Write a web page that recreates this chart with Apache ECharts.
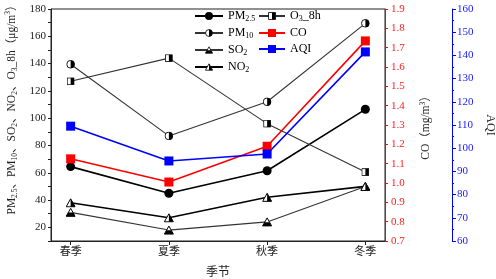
<!DOCTYPE html>
<html>
<head>
<meta charset="utf-8">
<script src="https://cdn.jsdelivr.net/npm/echarts@6/dist/echarts.min.js"></script>
<style>
  html, body { margin: 0; padding: 0; background: #fff; }
  #chart { width: 496px; height: 279px; }
</style>
</head>
<body>
<div id="chart"></div>
<script>
// 季节与各污染物浓度
const seasons = ['春季', '夏季', '秋季', '冬季']
const pm25 = [64.5, 45, 61.5, 106.5]
const pm10 = [139.5, 87, 112, 169.5]
const o3 = [127, 144, 96, 60.5]
const so2 = [31, 18, 24, 50]
const no2 = [38, 27, 42, 50]
const co = [1.125, 1.005, 1.19, 1.735]
const aqi = [109.5, 94.5, 97.5, 141.5]

const leftTicks = [20, 40, 60, 80, 100, 120, 140, 160, 180]
const seasonTicks = [0, 1, 2, 3]

const serif = '"Liberation Serif", "Times New Roman", "Noto Sans CJK SC", serif'

// 双色标记（Origin 风格）
function svgSymbol (body) {
  const svg = "<svg xmlns='http://www.w3.org/2000/svg' width='20' height='20' viewBox='0 0 20 20'>" + body + '</svg>'
  return 'image://data:image/svg+xml;charset=utf-8,' + encodeURIComponent(svg)
}
const halfCircle = svgSymbol("<circle cx='10' cy='10' r='8.6' fill='white' stroke='black' stroke-width='2'/><path d='M10 1.4 A8.6 8.6 0 0 1 10 18.6 Z' fill='black'/>")
const halfSquare = svgSymbol("<rect x='1.5' y='1.5' width='17' height='17' fill='white' stroke='black' stroke-width='2'/><rect x='10' y='1.5' width='8.5' height='17' fill='black'/>")
const triBottom = svgSymbol("<polygon points='10,2 19,18 1,18' fill='white' stroke='black' stroke-width='2'/><polygon points='5.5,10.5 14.5,10.5 19,18 1,18' fill='black'/>")
const triRight = svgSymbol("<polygon points='10,2 19,18 1,18' fill='white' stroke='black' stroke-width='2'/><polygon points='10,2 19,18 10,18' fill='black'/>")

const pairs = arr => arr.map((v, i) => [i, v])

const rich = {
  a: { fontFamily: serif, fontSize: 12, lineHeight: 14, color: '#000' },
  b: { fontFamily: serif, fontSize: 8, lineHeight: 8, verticalAlign: 'bottom', color: '#000' },
  c: { fontFamily: serif, fontSize: 8, lineHeight: 8, verticalAlign: 'top', color: '#000' }
}
const nameRich = {
  a: Object.assign({}, rich.a, { fontSize: 11.5, color: '#222' }),
  b: Object.assign({}, rich.b, { fontSize: 7.5, color: '#222' }),
  c: Object.assign({}, rich.c, { fontSize: 7.5, color: '#222' })
}
const legendNames = {
  'PM2.5': '{a|PM}{b|2.5}',
  'PM10': '{a|PM}{b|10}',
  'SO2': '{a|SO}{b|2}',
  'NO2': '{a|NO}{b|2}',
  'O3_8h': '{a|O}{b|3}{a|_8h}',
  'CO': '{a|CO}',
  'AQI': '{a|AQI}'
}

const chart = echarts.init(document.getElementById('chart'))
chart.setOption({
  animation: false,
  backgroundColor: '#fff',
  grid: {
    left: 51, right: 111, top: 9, bottom: 38,
    containLabel: false, outerBoundsMode: 'none',
    show: true, borderColor: '#222', borderWidth: 1
  },
  legend: [
    {
      data: ['PM2.5', 'PM10', 'SO2', 'NO2'],
      orient: 'vertical', left: 194, top: 10, padding: 0, itemGap: 4, itemWidth: 28, itemHeight: 10,
      formatter: n => legendNames[n], textStyle: { rich: rich }
    },
    {
      data: ['O3_8h', 'CO', 'AQI'],
      orient: 'vertical', left: 258, top: 10, padding: 0, itemGap: 4, itemWidth: 26, itemHeight: 10,
      formatter: n => legendNames[n], textStyle: { rich: rich }
    }
  ],
  xAxis: {
    type: 'value', min: -0.2, max: 3.2,
    name: '季节', nameLocation: 'middle', nameGap: 26,
    nameTextStyle: { fontFamily: serif, fontSize: 12, color: '#222' },
    axisLine: { onZero: false, lineStyle: { color: '#222', width: 1 } },
    axisTick: { customValues: seasonTicks, length: 4, lineStyle: { color: '#222' } },
    axisLabel: { customValues: seasonTicks, formatter: v => seasons[Math.round(v)], fontFamily: serif, fontSize: 11, color: '#222', margin: 6 },
    splitLine: { show: false }
  },
  yAxis: [
    {
      type: 'value', min: 10, max: 180, interval: 10, position: 'left',
      name: '{a|PM}{b|2.5}{a|、PM}{b|10}{a|、SO}{b|2}{a|、NO}{b|2}{a|、O}{b|3}{a|_8h（μg/m}{c|3}{a|）}',
      nameLocation: 'middle', nameGap: 32,
      nameTextStyle: { rich: nameRich, padding: [0, 0, 0, 36] },
      axisLine: { show: true, onZero: false, lineStyle: { color: '#222', width: 1 } },
      axisTick: { show: true, length: 3, lineStyle: { color: '#222' } },
      axisLabel: { customValues: leftTicks, fontFamily: serif, fontSize: 11, color: '#222', margin: 5 },
      splitLine: { show: false }
    },
    {
      type: 'value', min: 0.7, max: 1.9, interval: 0.1, position: 'right',
      name: '{a|CO（mg/m}{c|3}{a|）}',
      nameLocation: 'middle', nameGap: 34,
      nameTextStyle: { rich: nameRich },
      axisLine: { show: true, onZero: false, lineStyle: { color: '#ff0000', width: 1 } },
      axisTick: { show: true, length: 3, lineStyle: { color: '#ff0000' } },
      axisLabel: { formatter: v => v.toFixed(1), fontFamily: serif, fontSize: 11, color: '#ff2020', margin: 6 },
      splitLine: { show: false }
    },
    {
      type: 'value', min: 60, max: 160, interval: 10, position: 'right', offset: 67,
      name: 'AQI', nameLocation: 'middle', nameGap: 28, nameRotate: -90,
      nameTextStyle: { fontFamily: serif, fontSize: 12, color: '#222' },
      axisLine: { show: true, onZero: false, lineStyle: { color: '#0000ff', width: 1 } },
      axisTick: { show: true, length: 4, lineStyle: { color: '#0000ff' } },
      minorTick: { show: true, splitNumber: 2, length: 2, lineStyle: { color: '#0000ff' } },
      axisLabel: { fontFamily: serif, fontSize: 11, color: '#2020ff', margin: 5 },
      splitLine: { show: false }
    }
  ],
  series: [
    {
      name: 'PM2.5', type: 'line', yAxisIndex: 0, data: pairs(pm25),
      symbol: 'circle', symbolSize: 9, itemStyle: { color: '#000' }, lineStyle: { color: '#000', width: 1.6 }
    },
    {
      name: 'PM10', type: 'line', yAxisIndex: 0, data: pairs(pm10),
      symbol: halfCircle, symbolSize: 9, itemStyle: { color: '#333' }, lineStyle: { color: '#333', width: 1.1 }
    },
    {
      name: 'SO2', type: 'line', yAxisIndex: 0, data: pairs(so2),
      symbol: triBottom, symbolSize: 10, itemStyle: { color: '#333' }, lineStyle: { color: '#333', width: 1.1 }
    },
    {
      name: 'NO2', type: 'line', yAxisIndex: 0, data: pairs(no2),
      symbol: triRight, symbolSize: 10, itemStyle: { color: '#000' }, lineStyle: { color: '#000', width: 1.6 }
    },
    {
      name: 'O3_8h', type: 'line', yAxisIndex: 0, data: pairs(o3),
      symbol: halfSquare, symbolSize: 8, itemStyle: { color: '#333' }, lineStyle: { color: '#333', width: 1.1 }
    },
    {
      name: 'CO', type: 'line', yAxisIndex: 1, data: pairs(co),
      symbol: 'rect', symbolSize: 9, itemStyle: { color: '#ff0000' }, lineStyle: { color: '#ff0000', width: 1.6 }
    },
    {
      name: 'AQI', type: 'line', yAxisIndex: 2, data: pairs(aqi),
      symbol: 'rect', symbolSize: 9, itemStyle: { color: '#0000ff' }, lineStyle: { color: '#0000ff', width: 1.6 }
    }
  ]
})
</script>
</body>
</html>
